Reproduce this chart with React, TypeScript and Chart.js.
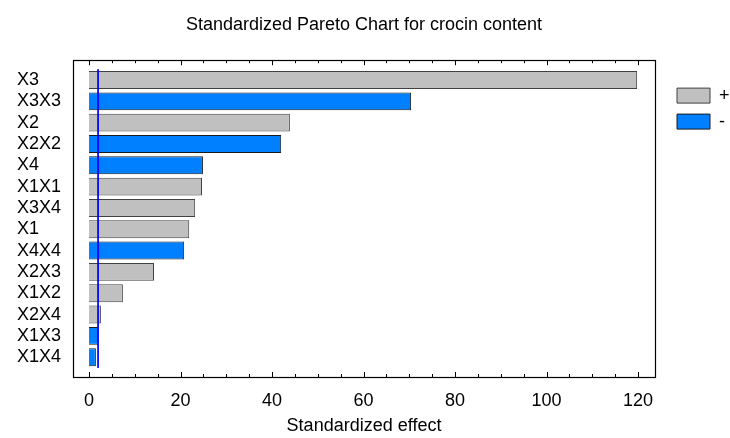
import React, { useEffect, useRef } from 'react';
import { Chart, registerables } from 'chart.js';

Chart.register(...registerables);

const chartTitle = 'Standardized Pareto Chart for crocin content';
const xAxisTitle = 'Standardized effect';
const factors = ['X3', 'X3X3', 'X2', 'X2X2', 'X4', 'X1X1', 'X3X4', 'X1', 'X4X4', 'X2X3', 'X1X2', 'X2X4', 'X1X3', 'X1X4'];
const effects = [119.8, 70.4, 43.9, 42.0, 24.9, 24.7, 23.2, 21.9, 20.8, 14.2, 7.4, 2.6, 2.0, 1.5];
const signs = ['+', '-', '+', '-', '-', '+', '+', '+', '-', '+', '+', '+', '-', '-'];
const legendLabels = ['+', '-'];
const criticalValue = 1.98;
const xTickValues = [0, 20, 40, 60, 80, 100, 120];
const xMin = -3.5;
const xMax = 123.7;
const minorStep = 5;

const FONT = "'Liberation Sans', Arial, sans-serif";

const framePlugin = {
  id: 'frame',
  afterDraw(chart: any) {
    const { ctx, chartArea, scales } = chart;
    const { left, right, top, bottom } = chartArea;
    const x = scales.x;
    ctx.save();
    ctx.strokeStyle = '#000';
    ctx.lineWidth = 1;
    ctx.beginPath();
    const last = xTickValues[xTickValues.length - 1];
    for (let v = xTickValues[0]; v <= last; v += minorStep) {
      const px = Math.round(x.getPixelForValue(v)) + 0.5;
      const len = xTickValues.includes(v) ? 5 : 3;
      ctx.moveTo(px, bottom);
      ctx.lineTo(px, bottom - len);
      ctx.moveTo(px, top);
      ctx.lineTo(px, top + len);
    }
    ctx.stroke();
    ctx.lineWidth = 1.2;
    ctx.strokeRect(Math.round(left) + 0.5, Math.round(top) + 0.5, Math.round(right - left), Math.round(bottom - top));
    ctx.restore();
  },
};

export default function App() {
  const ref = useRef<HTMLCanvasElement>(null);

  useEffect(() => {
    if (!ref.current) return;
    const posData = factors
      .map((_, i) => ({ x: effects[i], y: i, s: signs[i] }))
      .filter((d) => d.s === '+')
      .map((d) => ({ x: d.x, y: d.y }));
    const negData = factors
      .map((_, i) => ({ x: effects[i], y: i, s: signs[i] }))
      .filter((d) => d.s === '-')
      .map((d) => ({ x: d.x, y: d.y }));

    const chart = new Chart(ref.current, {
      type: 'bar',
      data: {
        datasets: [
          {
            label: legendLabels[0],
            data: posData,
            backgroundColor: '#C0C0C0',
            borderColor: '#404040',
            borderWidth: 1,
            grouped: false,
            categoryPercentage: 1,
            barPercentage: 0.84,
            order: 1,
          } as any,
          {
            label: legendLabels[1],
            data: negData,
            backgroundColor: '#0080FF',
            borderColor: '#1a1a1a',
            borderWidth: 1,
            grouped: false,
            categoryPercentage: 1,
            barPercentage: 0.84,
            order: 1,
          } as any,
          {
            type: 'line',
            label: 'critical',
            data: [
              { x: criticalValue, y: -0.5 },
              { x: criticalValue, y: factors.length - 0.5 },
            ],
            borderColor: '#0000FF',
            borderWidth: 1,
            pointRadius: 0,
            fill: false,
            order: 0,
          } as any,
        ],
      },
      options: {
        indexAxis: 'y',
        animation: false,
        responsive: true,
        maintainAspectRatio: false,
        events: [],
        layout: { padding: { left: 17, top: 0, right: 0, bottom: 0 } },
        scales: {
          x: {
            type: 'linear',
            position: 'bottom',
            min: xMin,
            max: xMax,
            offset: false,
            afterBuildTicks: (s: any) => {
              s.ticks = xTickValues.map((v) => ({ value: v }));
            },
            afterFit: (s: any) => {
              s.height = 61;
            },
            grid: { display: false, drawTicks: false },
            border: { display: false },
            ticks: {
              autoSkip: false,
              maxRotation: 0,
              padding: 13,
              color: '#000',
              font: { family: FONT, size: 18 },
            },
            title: {
              display: true,
              text: xAxisTitle,
              color: '#000',
              font: { family: FONT, size: 18 },
              padding: { top: 0, bottom: 1 },
            },
          },
          y: {
            type: 'linear',
            position: 'left',
            reverse: true,
            offset: false,
            min: -0.93,
            max: factors.length - 1 + 0.93,
            afterBuildTicks: (s: any) => {
              s.ticks = factors.map((_, i) => ({ value: i }));
            },
            afterFit: (s: any) => {
              s.width = 56;
            },
            grid: { display: false, drawTicks: false, offset: false },
            border: { display: false },
            ticks: {
              autoSkip: false,
              crossAlign: 'far',
              color: '#000',
              font: { family: FONT, size: 18 },
              callback: (v: any) => factors[v as number] ?? '',
            },
          },
          y2: {
            type: 'linear',
            position: 'right',
            display: true,
            offset: false,
            afterFit: (s: any) => {
              s.width = 14;
            },
            grid: { display: false, drawTicks: false },
            border: { display: false },
            ticks: { display: false },
          },
        },
        plugins: {
          title: {
            display: true,
            fullSize: false,
            text: chartTitle,
            color: '#000',
            font: { family: FONT, size: 18, weight: 'normal' },
            padding: { top: 14, bottom: 24.6 },
          },
          legend: {
            display: true,
            position: 'right',
            align: 'start',
            fullSize: false,
            maxWidth: 61,
            title: {
              display: true,
              text: '',
              font: { family: FONT, size: 12 },
              padding: { top: 4, bottom: 0 },
            },
            labels: {
              boxWidth: 33,
              boxHeight: 15,
              padding: 8,
              color: '#000',
              font: { family: FONT, size: 18 },
              filter: (item: any) => item.datasetIndex < 2,
              sort: (a: any, b: any) => a.datasetIndex - b.datasetIndex,
            },
          },
          tooltip: { enabled: false },
        },
      },
      plugins: [framePlugin],
    } as any);

    return () => chart.destroy();
  }, []);

  return (
    <div style={{ position: 'fixed', left: 0, top: 0, width: 730, height: 438, background: '#fff' }}>
      <canvas ref={ref} />
    </div>
  );
}
